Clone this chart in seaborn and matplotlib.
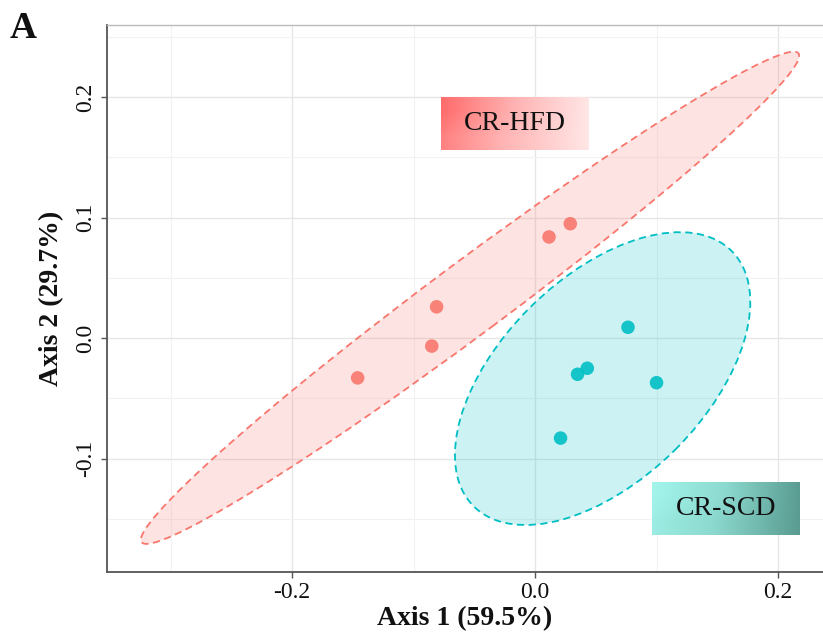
import numpy as np
import pandas as pd
import matplotlib
matplotlib.use("Agg")
import matplotlib.pyplot as plt
from matplotlib.patches import Ellipse
from matplotlib.colors import LinearSegmentedColormap
from matplotlib.ticker import MultipleLocator
import seaborn as sns

# PCoA sample coordinates
groups = ["CR-HFD"] * 5 + ["CR-SCD"] * 5
axis1 = [-0.146, -0.085, -0.081, 0.0115, 0.029, 0.0765, 0.043, 0.035, 0.100, 0.021]
axis2 = [-0.033, -0.0066, 0.026, 0.084, 0.095, 0.009, -0.025, -0.030, -0.037, -0.083]

# confidence ellipses (center x, center y, semi-major, semi-minor, angle deg)
ell_groups = ["CR-HFD", "CR-SCD"]
ell_cx = [-0.0535, 0.0556]
ell_cy = [0.0335, -0.0336]
ell_a = [0.338, 0.150]
ell_b = [0.030, 0.084]
ell_angle = [36.9, 45.0]

colors = {"CR-HFD": "#F8766D", "CR-SCD": "#00BFC4"}

df = pd.DataFrame({"Axis1": axis1, "Axis2": axis2, "group": groups})

sns.set_theme(style="whitegrid")
plt.rcParams['font.family'] = ['Liberation Serif', 'DejaVu Serif']

fig = plt.figure(figsize=(8.23, 6.41), dpi=100)
ax = fig.add_axes([0.130, 0.108, 0.870, 0.853])

for g, cx, cy, a, b, ang in zip(ell_groups, ell_cx, ell_cy, ell_a, ell_b, ell_angle):
    c = colors[g]
    ax.add_patch(Ellipse((cx, cy), 2 * a, 2 * b, angle=ang, facecolor=c,
                         alpha=0.2, edgecolor="none", zorder=1))
    ax.add_patch(Ellipse((cx, cy), 2 * a, 2 * b, angle=ang, facecolor="none",
                         edgecolor=c, lw=1.3, linestyle=(0, (4, 2.5)), zorder=2))

sns.scatterplot(data=df, x="Axis1", y="Axis2", hue="group", palette=colors,
                s=95, alpha=0.9, edgecolor="none", legend=False, ax=ax, zorder=3)

# gradient label boxes
grad = np.linspace(0, 1, 256).reshape(1, -1)
grad = np.vstack([grad, grad * 0.85 + 0.15])
hfd_cmap = LinearSegmentedColormap.from_list("hfd", ["#FF6B6B", "#FFB3B3", "#FFE6E6"])
scd_cmap = LinearSegmentedColormap.from_list("scd", ["#A3F5EC", "#8CD9CF", "#5A9C91"])
ax.imshow(grad, extent=[-0.0774, 0.0444, 0.156, 0.200], cmap=hfd_cmap,
          aspect="auto", zorder=4, interpolation="bilinear")
ax.imshow(grad, extent=[0.0963, 0.218, -0.1635, -0.120], cmap=scd_cmap,
          aspect="auto", zorder=4, interpolation="bilinear")
ax.text(-0.0165, 0.178, "CR-HFD", fontsize=20, ha="center", va="center",
        color="#111111", zorder=5)
ax.text(0.157, -0.1418, "CR-SCD", fontsize=20, ha="center", va="center",
        color="#111111", zorder=5)

ax.set_xlim(-0.3523, 0.237)
ax.set_ylim(-0.194, 0.260)
ax.xaxis.set_minor_locator(MultipleLocator(0.1))
ax.yaxis.set_minor_locator(MultipleLocator(0.05))
ax.set_xticks([-0.2, 0.0, 0.2])
ax.set_xticklabels(["-0.2", "0.0", "0.2"])
ax.set_yticks([-0.1, 0.0, 0.1, 0.2])
ax.set_yticklabels(["-0.1", "0.0", "0.1", "0.2"], rotation=90, va="center")

ax.grid(which="major", color="#E6E6E6", lw=1.0)
ax.grid(which="minor", color="#F2F2F2", lw=0.8)
ax.set_axisbelow(True)
ax.set_facecolor("white")

for s in ["left", "bottom"]:
    ax.spines[s].set_visible(True)
    ax.spines[s].set_color("#555555")
    ax.spines[s].set_linewidth(1.3)
ax.spines["top"].set_color("#BBBBBB")
ax.spines["top"].set_linewidth(1.0)
ax.spines["right"].set_visible(False)

ax.tick_params(axis="both", which="major", direction="out", length=4, width=1,
               color="#555555", labelsize=17, labelcolor="#111111", bottom=True, left=True)
ax.tick_params(axis="both", which="minor", length=0)

ax.set_xlabel("Axis 1 (59.5%)", fontsize=20, fontweight="bold", color="#111111", labelpad=2)
ax.set_ylabel("Axis 2 (29.7%)", fontsize=20, fontweight="bold", color="#111111", labelpad=8)

fig.text(0.012, 0.94, "A", fontsize=27, fontweight="bold", color="#111111")

fig.savefig("out.png", dpi=100)
